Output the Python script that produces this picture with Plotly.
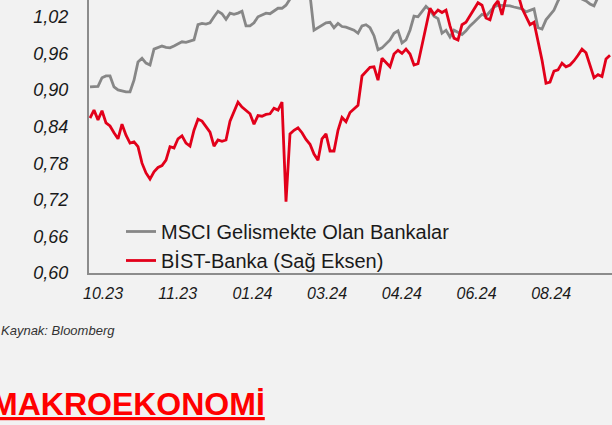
import plotly.graph_objects as go

# ---- data (one value every ~2 trading days) ----
msci = [0.905, 0.906, 0.906, 0.920, 0.923, 0.923, 0.905, 0.900, 0.898, 0.897,
        0.897, 0.916, 0.946, 0.952, 0.944, 0.941, 0.967, 0.969, 0.972, 0.970,
        0.969, 0.972, 0.975, 0.979, 0.978, 0.980, 0.982, 1.007, 1.009, 1.008,
        1.010, 1.020, 1.029, 1.025, 1.016, 1.026, 1.024, 1.026, 1.029, 1.005,
        1.005, 1.010, 1.020, 1.023, 1.026, 1.025, 1.030, 1.034, 1.034, 1.039,
        1.049, 1.057, 1.061, 1.064, 1.061, 1.056, 0.998, 1.002, 1.005, 1.010,
        1.011, 1.002, 1.009, 1.004, 1.003, 1.001, 0.998, 0.993, 1.005, 1.007,
        1.002, 0.989, 0.966, 0.969, 0.975, 0.982, 0.993, 0.997, 0.977, 0.982,
        0.998, 1.021, 1.020, 1.029, 1.037, 1.031, 1.021, 1.017, 0.993, 0.998,
        0.987, 0.998, 0.995, 0.991, 0.997, 1.005, 1.011, 1.018, 1.024, 1.021,
        1.028, 1.036, 1.039, 1.039, 1.039, 1.038, 1.036, 1.035, 1.033, 1.028,
        1.031, 1.033, 1.002, 1.000, 1.015, 1.023, 1.031, 1.046, 1.057, 1.064,
        1.067, 1.061, 1.056, 1.049, 1.046, 1.041, 1.038, 1.052, 1.061, 1.064,
        1.067]

bist = [0.854, 0.867, 0.851, 0.866, 0.846, 0.841, 0.830, 0.820, 0.844, 0.826,
        0.813, 0.815, 0.807, 0.780, 0.764, 0.754, 0.766, 0.773, 0.776, 0.785,
        0.807, 0.805, 0.820, 0.825, 0.813, 0.808, 0.834, 0.852, 0.849, 0.840,
        0.831, 0.808, 0.818, 0.816, 0.818, 0.849, 0.866, 0.880, 0.872, 0.866,
        0.861, 0.844, 0.858, 0.857, 0.860, 0.861, 0.870, 0.867, 0.880, 0.717,
        0.828, 0.834, 0.838, 0.830, 0.819, 0.811, 0.795, 0.785, 0.820, 0.828,
        0.800, 0.800, 0.834, 0.855, 0.848, 0.863, 0.869, 0.875, 0.923, 0.930,
        0.937, 0.938, 0.916, 0.952, 0.945, 0.938, 0.959, 0.965, 0.960, 0.967,
        0.959, 0.941, 0.943, 0.974, 1.000, 1.034, 1.024, 1.031, 1.027, 1.031,
        1.005, 0.985, 0.982, 1.007, 1.011, 1.022, 1.032, 1.043, 1.039, 1.018,
        1.015, 1.038, 1.046, 1.023, 1.052, 1.061, 1.064, 1.057, 1.034, 1.019,
        1.007, 1.011, 0.982, 0.949, 0.911, 0.913, 0.931, 0.933, 0.944, 0.938,
        0.941, 0.948, 0.957, 0.967, 0.961, 0.939, 0.920, 0.925, 0.922, 0.951,
        0.957]

x_labels = ["10.23", "11.23", "01.24", "03.24", "04.24", "06.24", "08.24", "10.24"]
y_ticks = [0.60, 0.66, 0.72, 0.78, 0.84, 0.90, 0.96, 1.02]

series_names = ["MSCI Gelismekte Olan Bankalar", "BİST-Banka (Sağ Eksen)"]
source_text = "Kaynak: Bloomberg"
section_title = "MAKROEKONOMİ"

# ---- layout ----
W, H = 612, 425
L, R, T, B = 89, 0, 0, 152
plot_w, plot_h = W - L - R, H - T - B
FONT = "Liberation Sans, Arial, sans-serif"

idx = list(range(len(msci)))
label_start, label_step = 3.25, 18.675
tickvals = [label_start + label_step * i for i in range(len(x_labels))]
x_range = [-0.25, 130.5]
y_range = [0.60, 1.0475]


def px_x(p):
    return (p - L) / plot_w


def px_y(p):
    return (H - B - p) / plot_h


fig = go.Figure()
fig.add_trace(go.Scatter(x=idx, y=msci, mode="lines", name=series_names[0],
                         line=dict(color="#878787", width=2.8)))
fig.add_trace(go.Scatter(x=idx, y=bist, mode="lines", name=series_names[1],
                         yaxis="y2", line=dict(color="#E2001A", width=2.8)))

fig.update_layout(
    width=W, height=H,
    margin=dict(l=L, r=R, t=T, b=B, pad=0),
    paper_bgcolor="#f2f2f2", plot_bgcolor="#f2f2f2",
    separators=",.",
    font=dict(family=FONT, color="#1a1a1a"),
    showlegend=True,
    legend=dict(x=px_x(121), y=px_y(212), xanchor="left", yanchor="top",
                bgcolor="rgba(0,0,0,0)", font=dict(size=20, color="#1a1a1a", family=FONT),
                itemwidth=30, tracegroupgap=0),
    xaxis=dict(range=x_range, tickmode="array", tickvals=tickvals, ticktext=x_labels,
               showgrid=False, zeroline=False, showline=True, linecolor="#8c8c8c",
               linewidth=2, ticks="", ticklabelstandoff=5,
               tickfont=dict(size=16, style="italic", color="#1a1a1a", family=FONT)),
    yaxis=dict(range=y_range, tickmode="array", tickvals=y_ticks, tickformat=".2f",
               showgrid=False, zeroline=False, showline=True, linecolor="#8c8c8c",
               linewidth=2, ticks="", ticklabelstandoff=15,
               tickfont=dict(size=18, style="italic", color="#1a1a1a", family=FONT)),
    yaxis2=dict(range=y_range, overlaying="y", side="right", visible=False),
)

fig.add_annotation(text=source_text, xref="paper", yref="paper",
                   x=px_x(-1), y=px_y(330), xanchor="left", yanchor="middle",
                   showarrow=False,
                   font=dict(size=13, style="italic", color="#333333", family=FONT))
fig.add_annotation(text="<u>" + section_title + "</u>", xref="paper", yref="paper",
                   x=px_x(-11), y=px_y(404), xanchor="left", yanchor="middle",
                   showarrow=False,
                   font=dict(size=32, weight="bold", color="#ff0000", family=FONT))

fig.write_html("out.html")
